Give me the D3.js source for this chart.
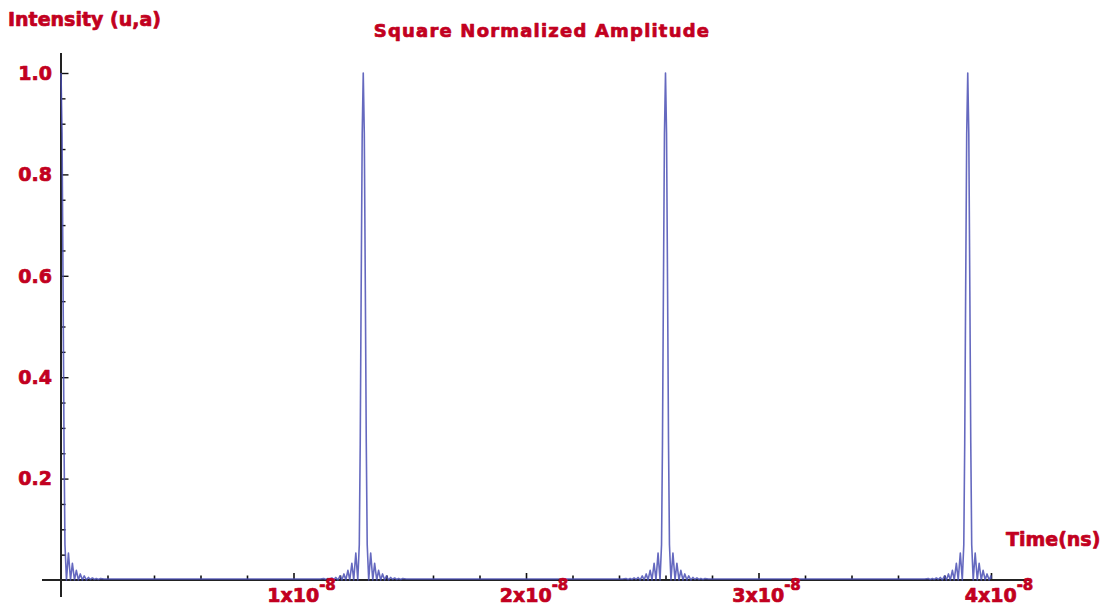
<!DOCTYPE html>
<html>
<head>
<meta charset="utf-8">
<script src="https://cdn.jsdelivr.net/npm/d3@7"></script>
<style>
  html, body { margin: 0; padding: 0; background: #ffffff; }
  svg { display: block; }
  .lbl { font-family: "DejaVu Sans", "Liberation Sans", sans-serif; font-weight: bold;
         fill: #c20020; stroke: #c20020; stroke-width: 0.7; stroke-linejoin: round; }
</style>
</head>
<body>
<svg id="chart" width="1110" height="605"></svg>
<script>
// Pulse train: each pulse sits at one of these times (seconds)
const peakTimes = [0, 1.3e-8, 2.6e-8, 3.9e-8];
const timeEnd = 4.0e-8;

// Shape of one pulse: offset from its centre (picoseconds) and squared normalized amplitude
const pulseOffsetPs = [0, 45, 90, 130, 170, 235, 320, 410, 490, 580, 660, 750, 830, 920, 1000, 1090, 1180, 1270, 1350, 1440, 1520, 1610, 1700, 1850];
const pulseValue    = [1.0, 0.88, 0.57, 0.27, 0.07, 0.0, 0.053, 0.0, 0.033, 0.0, 0.019, 0.0, 0.012, 0.0, 0.008, 0.0, 0.005, 0.001, 0.004, 0.001, 0.003, 0.001, 0.003, 0.002];

// Axis ticks
const xTickValues = [0.2e-8, 0.4e-8, 0.6e-8, 0.8e-8, 1.0e-8, 1.2e-8, 1.4e-8, 1.6e-8, 1.8e-8, 2.0e-8,
                     2.2e-8, 2.4e-8, 2.6e-8, 2.8e-8, 3.0e-8, 3.2e-8, 3.4e-8, 3.6e-8, 3.8e-8, 4.0e-8];
const xMajor = [1e-8, 2e-8, 3e-8, 4e-8];
const xMajorLabels = ["1x10", "2x10", "3x10", "4x10"];
const xExponent = "-8";
const yTickValues = [0.05, 0.1, 0.15, 0.2, 0.25, 0.3, 0.35, 0.4, 0.45, 0.5, 0.55, 0.6, 0.65, 0.7, 0.75, 0.8, 0.85, 0.9, 0.95, 1.0];
const yMajor = [0.2, 0.4, 0.6, 0.8, 1.0];
const yMajorLabels = ["0.2", "0.4", "0.6", "0.8", "1.0"];

const svg = d3.select("#chart");

const x = d3.scaleLinear().domain([0, timeEnd]).range([61, 991]);
const y = d3.scaleLinear().domain([0, 1]).range([580, 73]);

// Assemble the full pulse train from the pulse shape
const points = [];
peakTimes.forEach(c => {
  for (let i = pulseOffsetPs.length - 1; i >= 1; i--) {
    const t = c - pulseOffsetPs[i] * 1e-12;
    if (t >= 0 && t <= timeEnd) points.push([t, pulseValue[i]]);
  }
  for (let i = 0; i < pulseOffsetPs.length; i++) {
    const t = c + pulseOffsetPs[i] * 1e-12;
    if (t >= 0 && t <= timeEnd) points.push([t, pulseValue[i]]);
  }
});
points.push([timeEnd, pulseValue[pulseValue.length - 1]]);
points.sort((a, b) => a[0] - b[0]);

// X axis
const xAxis = d3.axisBottom(x)
  .tickValues(xTickValues)
  .tickSizeInner(-5)
  .tickSizeOuter(0)
  .tickFormat("");
const gx = svg.append("g").attr("transform", `translate(0,${y(0)})`).call(xAxis);
gx.select(".domain").remove();
gx.selectAll(".tick line")
  .attr("stroke", "#111")
  .attr("stroke-width", 1.6)
  .attr("y2", d => xMajor.some(m => Math.abs(m - d) < 1e-12) ? -7 : -4.5);
gx.append("line")
  .attr("x1", x(0) - 19).attr("x2", x(timeEnd) + 39)
  .attr("y1", 0).attr("y2", 0)
  .attr("stroke", "#222").attr("stroke-width", 1.8);

// Y axis
const yAxis = d3.axisLeft(y)
  .tickValues(yTickValues)
  .tickSizeInner(-5)
  .tickSizeOuter(0)
  .tickFormat("");
const gy = svg.append("g").attr("transform", `translate(${x(0)},0)`).call(yAxis);
gy.select(".domain").remove();
gy.selectAll(".tick line")
  .attr("stroke", "#111")
  .attr("stroke-width", 1.4)
  .attr("x2", d => yMajor.some(m => Math.abs(m - d) < 1e-9) ? 7.5 : 4.5);
gy.append("line")
  .attr("x1", 0).attr("x2", 0)
  .attr("y1", y(1) - 20).attr("y2", y(0) + 17)
  .attr("stroke", "#222").attr("stroke-width", 2);

// Pulse curve
const line = d3.line().x(d => x(d[0])).y(d => y(d[1]));
svg.append("path")
  .datum(points)
  .attr("fill", "none")
  .attr("stroke", "#4a4fb4")
  .attr("stroke-opacity", 0.85)
  .attr("stroke-width", 1.6)
  .attr("stroke-linejoin", "round")
  .attr("d", line);

// Y tick labels
svg.append("g").selectAll("text")
  .data(yMajor)
  .join("text")
  .attr("class", "lbl")
  .attr("x", x(0) - 9)
  .attr("y", d => y(d))
  .attr("dy", "0.36em")
  .attr("text-anchor", "end")
  .attr("font-size", 19)
  .text((d, i) => yMajorLabels[i]);

// X tick labels with exponent
const xl = svg.append("g").selectAll("text")
  .data(xMajor)
  .join("text")
  .attr("class", "lbl")
  .attr("x", d => x(d) + 8)
  .attr("y", 602)
  .attr("text-anchor", "middle")
  .attr("font-size", 19);
xl.append("tspan").text((d, i) => xMajorLabels[i]);
xl.append("tspan").attr("dy", -12).attr("font-size", 15).text(xExponent);

// Titles
svg.append("text").attr("class", "lbl")
  .attr("x", 542).attr("y", 37)
  .attr("text-anchor", "middle")
  .attr("font-size", 18)
  .attr("letter-spacing", 1.2)
  .text("Square Normalized Amplitude");

svg.append("text").attr("class", "lbl")
  .attr("x", 8).attr("y", 26)
  .attr("font-size", 19)
  .text("Intensity (u,a)");

svg.append("text").attr("class", "lbl")
  .attr("x", 1006).attr("y", 546)
  .attr("font-size", 19)
  .text("Time(ns)");
</script>
</body>
</html>
